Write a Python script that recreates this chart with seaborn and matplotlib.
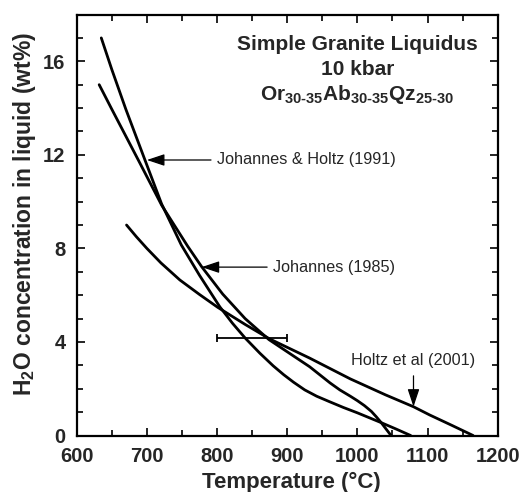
"""Simple granite liquidus at 10 kbar: H2O in melt vs temperature."""

import matplotlib.pyplot as plt
import pandas as pd
import seaborn as sns
from matplotlib.ticker import MultipleLocator

sns.set_style("ticks")
plt.rcParams["font.family"] = ["Liberation Sans", "DejaVu Sans"]
plt.rcParams["mathtext.fontset"] = "custom"
plt.rcParams["mathtext.rm"] = "Liberation Sans"
plt.rcParams["mathtext.bf"] = "Liberation Sans:bold"
plt.rcParams["mathtext.default"] = "bf"

# Johannes & Holtz (1991)
jh1991_temp = [635, 650, 670, 697, 721, 749, 775, 804, 822, 840, 861, 880, 895, 909,
               925, 942, 960, 980, 1000, 1034, 1055, 1076]
jh1991_h2o = [17.0, 15.65, 13.95, 11.8, 9.9, 8.15, 6.85, 5.5, 4.8, 4.17, 3.52, 2.98, 2.6, 2.28,
              1.95, 1.68, 1.45, 1.2, 0.97, 0.55, 0.28, 0.0]

# Johannes (1985)
j1985_temp = [632, 650, 670, 690, 721, 740, 758, 778, 808, 840, 874, 905, 932, 961, 975,
              990, 1000, 1010, 1020, 1027, 1034, 1048]
j1985_h2o = [15.0, 13.95, 12.8, 11.65, 9.85, 8.95, 8.1, 7.22, 6.05, 5.0, 4.1, 3.48, 2.94, 2.25, 1.95,
             1.68, 1.49, 1.28, 1.03, 0.8, 0.55, 0.0]

# Holtz et al (2001)
h2001_temp = [671, 685, 700, 720, 747, 775, 801, 840, 875, 932, 990, 1040, 1080, 1103, 1135, 1165]
h2001_h2o = [9.0, 8.5, 8.0, 7.38, 6.65, 6.03, 5.48, 4.75, 4.13, 3.31, 2.42, 1.74, 1.23, 0.88, 0.43, 0.0]

# temperature uncertainty bar
err_temp = 850
err_h2o = 4.17
err_halfwidth = 50

x_ticks = [600, 700, 800, 900, 1000, 1100, 1200]
y_ticks = [0, 4, 8, 12, 16]

curves = pd.concat(
    [
        pd.DataFrame({"T": jh1991_temp, "H2O": jh1991_h2o, "source": "Johannes & Holtz (1991)"}),
        pd.DataFrame({"T": j1985_temp, "H2O": j1985_h2o, "source": "Johannes (1985)"}),
        pd.DataFrame({"T": h2001_temp, "H2O": h2001_h2o, "source": "Holtz et al (2001)"}),
    ],
    ignore_index=True,
)

fig, ax = plt.subplots(figsize=(5.23, 4.92), dpi=100)
fig.subplots_adjust(left=0.1467, right=0.9516, bottom=0.1148, top=0.9705)

sns.lineplot(
    data=curves,
    x="T",
    y="H2O",
    units="source",
    estimator=None,
    sort=False,
    color="black",
    linewidth=2.0,
    ax=ax,
)

ax.errorbar(
    err_temp,
    err_h2o,
    xerr=err_halfwidth,
    color="black",
    elinewidth=1.3,
    capsize=2.9,
    capthick=1.3,
)

ax.set_xlim(600, 1200)
ax.set_ylim(0, 18)
ax.set_xticks(x_ticks)
ax.set_yticks(y_ticks)
ax.xaxis.set_minor_locator(MultipleLocator(50))
ax.yaxis.set_minor_locator(MultipleLocator(1))
ax.tick_params(which="both", direction="in", top=True, right=True, width=1.2, color="black")
ax.tick_params(which="major", length=6, pad=8, labelsize=14.5)
ax.tick_params(which="minor", length=4.5)
for lab in ax.get_xticklabels() + ax.get_yticklabels():
    lab.set_fontweight("bold")
for spine in ax.spines.values():
    spine.set_linewidth(1.6)
    spine.set_color("black")

ax.set_xlabel("Temperature (°C)", fontsize=16, fontweight="bold")
ax.set_ylabel("H$_2$O concentration in liquid (wt%)", fontsize=16.5, fontweight="bold")
ax.xaxis.set_label_coords(0.51, -0.087)
ax.yaxis.set_label_coords(-0.093, 0.525)

# title block
ax.text(1000, 16.48, "Simple Granite Liquidus", ha="center", va="baseline",
        fontsize=15, fontweight="bold")
ax.text(1000, 15.41, "10 kbar", ha="center", va="baseline", fontsize=15, fontweight="bold")
ax.text(1000, 14.34, "Or$_{30‐35}$Ab$_{30‐35}$Qz$_{25‐30}$", ha="center", va="baseline",
        fontsize=15, fontweight="bold")

arrow_side = dict(arrowstyle="-|>,head_length=0.9,head_width=0.3", color="black",
                  lw=0.9, mutation_scale=12, shrinkA=2, shrinkB=0, relpos=(0, 0.5))
ax.annotate("Johannes & Holtz (1991)", xy=(700, 11.78), xytext=(800, 11.78),
            ha="left", va="center", fontsize=11.7, arrowprops=arrow_side)
ax.annotate("Johannes (1985)", xy=(778, 7.2), xytext=(880, 7.2),
            ha="left", va="center", fontsize=11.7, arrowprops=arrow_side)
arrow_down = dict(arrow_side, relpos=(0.5, 0), shrinkA=3)
ax.annotate("Holtz et al (2001)", xy=(1080, 1.23), xytext=(1080, 3.19),
            ha="center", va="center", fontsize=11.7, arrowprops=arrow_down)

fig.savefig("out.png", dpi=100)
